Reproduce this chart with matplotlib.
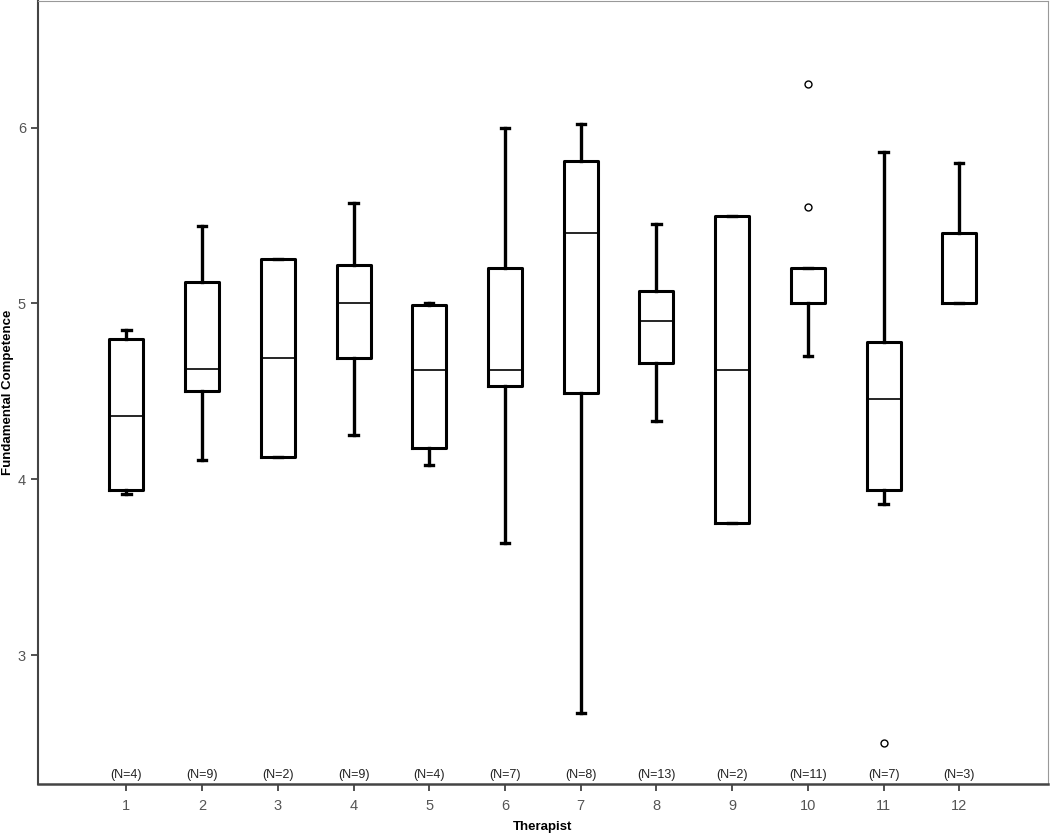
import matplotlib.pyplot as plt

plt.rcParams['font.family'] = ['Liberation Sans', 'DejaVu Sans']

# values
therapists = [1, 2, 3, 4, 5, 6, 7, 8, 9, 10, 11, 12]
n_counts = [4, 9, 2, 9, 4, 7, 8, 13, 2, 11, 7, 3]
whisker_lo = [3.92, 4.11, 4.13, 4.25, 4.08, 3.64, 2.67, 4.33, 3.75, 4.70, 3.86, 5.00]
q1 = [3.94, 4.50, 4.13, 4.69, 4.18, 4.53, 4.49, 4.66, 3.75, 5.00, 3.94, 5.00]
median = [4.36, 4.63, 4.69, 5.00, 4.62, 4.62, 5.40, 4.90, 4.62, 5.00, 4.46, 5.00]
q3 = [4.80, 5.12, 5.25, 5.22, 4.99, 5.20, 5.81, 5.07, 5.50, 5.20, 4.78, 5.40]
whisker_hi = [4.85, 5.44, 5.25, 5.57, 5.00, 6.00, 6.02, 5.45, 5.50, 5.20, 5.86, 5.80]
outliers = [[], [], [], [], [], [], [], [], [], [6.25, 5.55], [2.50], []]

stats = []
for i in range(len(therapists)):
    stats.append(dict(whislo=whisker_lo[i], q1=q1[i], med=median[i],
                      q3=q3[i], whishi=whisker_hi[i], fliers=outliers[i]))

fig = plt.figure(figsize=(10.5, 8.33), dpi=100)
ax = fig.add_axes([0.036, 0.059, 0.962, 0.94])

ax.bxp(stats, positions=therapists, widths=0.45, capwidths=0.11,
       showfliers=True,
       boxprops=dict(color='black', linewidth=2.2),
       whiskerprops=dict(color='black', linewidth=2.4),
       capprops=dict(color='black', linewidth=2.4),
       medianprops=dict(color='black', linewidth=1.2),
       flierprops=dict(marker='o', markersize=5, markerfacecolor='white',
                       markeredgecolor='black', markeredgewidth=1.0))

ax.set_xlim(-0.17, 13.17)
ax.set_ylim(2.27, 6.72)
ax.set_yticks([3, 4, 5, 6])
ax.set_xticks(therapists)
ax.set_xticklabels([str(t) for t in therapists])

for t, n in zip(therapists, n_counts):
    ax.text(t, 2.285, '(N=%d)' % n, ha='center', va='bottom',
            fontsize=9, color='#222222')

ax.tick_params(axis='both', colors='#333333', labelcolor='#555555',
               labelsize=10.5, length=5, width=1.2)
ax.tick_params(axis='x', pad=6)
ax.spines['left'].set_color('#444444')
ax.spines['bottom'].set_color('#444444')
ax.spines['left'].set_linewidth(1.5)
ax.spines['bottom'].set_linewidth(1.8)
ax.spines['top'].set_color('#999999')
ax.spines['right'].set_color('#999999')

ax.set_xlabel('Therapist', fontsize=9.5, fontweight='bold', labelpad=6)
ax.set_ylabel('Fundamental Competence', fontsize=9.5, fontweight='bold',
              va='center')
ax.yaxis.set_label_coords(-0.0295, 0.5)

fig.savefig('out.png', dpi=100)
